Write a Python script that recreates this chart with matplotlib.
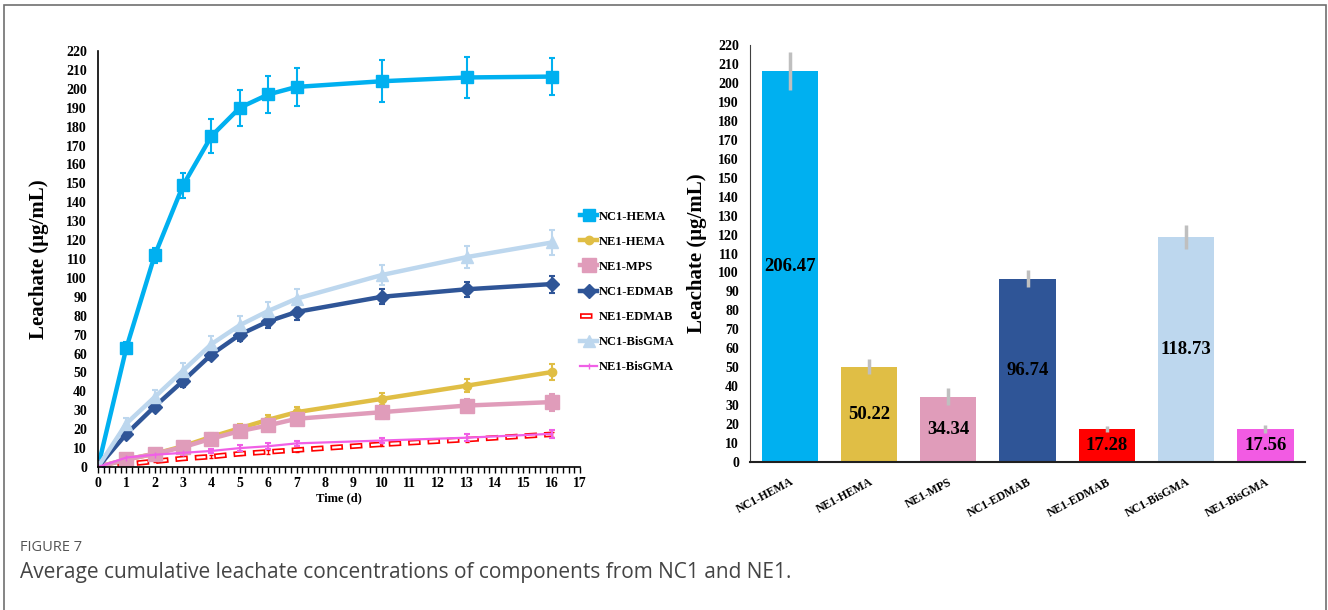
import numpy as np
import matplotlib.pyplot as plt
from matplotlib.ticker import MultipleLocator
from matplotlib.patches import Rectangle
from matplotlib.lines import Line2D

plt.rcParams['font.family'] = ['Liberation Serif', 'DejaVu Serif']
plt.rcParams['lines.scale_dashes'] = False

# sampling days
days = [0, 1, 2, 3, 4, 5, 6, 7, 10, 13, 16]

names = ['NC1-HEMA', 'NE1-HEMA', 'NE1-MPS', 'NC1-EDMAB', 'NE1-EDMAB', 'NC1-BisGMA', 'NE1-BisGMA']

nc1_hema = [0, 63, 112, 149, 175, 190, 197, 201, 204, 206, 206.47]
nc1_hema_err = [0, 3, 4, 6.5, 9, 9.5, 10, 10, 11, 11, 10]
ne1_hema = [0, 4, 7, 11, 16, 20.5, 25, 29, 36, 43, 50.22]
ne1_hema_err = [0, 1, 1.5, 2, 2, 2.5, 2.5, 3, 3, 3.5, 4]
ne1_mps = [0, 4, 7, 10.5, 15, 19, 22, 25.5, 29, 32.5, 34.34]
ne1_mps_err = [0, 1.5, 2, 2.5, 2.5, 3, 3, 3.5, 3.5, 3.5, 4.5]
nc1_edmab = [0, 17.5, 32, 45.5, 59.5, 70, 77, 82, 90, 94, 96.74]
nc1_edmab_err = [0, 2, 2.5, 3, 3, 3.5, 3.5, 4, 4, 4, 4.5]
ne1_edmab = [0, 1.5, 3, 4.5, 5.5, 7, 8, 9, 12, 14.5, 17.28]
ne1_edmab_err = [0, 0.5, 0.5, 0.5, 0.8, 0.8, 1, 1, 1, 1.2, 1.5]
nc1_bisgma = [0, 23, 37, 51, 65, 75, 82.5, 89, 101.5, 111, 118.73]
nc1_bisgma_err = [0, 3, 3.5, 4, 4.5, 5, 5, 5, 5.5, 6, 6.5]
ne1_bisgma = [0, 5, 6.5, 7.5, 8.5, 10, 11, 12.5, 14, 15.5, 17.56]
ne1_bisgma_err = [0, 1, 1, 1, 1, 1.5, 1.5, 1.5, 1.5, 1.8, 2]

# final cumulative values for the bar panel
final_vals = [206.47, 50.22, 34.34, 96.74, 17.28, 118.73, 17.56]
final_err = [10, 4, 4.5, 4.5, 1.5, 6.5, 2]

c_nc1_hema = '#00B0F0'
c_ne1_hema = '#E0BE45'
c_ne1_mps = '#E09CBA'
c_nc1_edmab = '#2F5597'
c_ne1_edmab = '#FF0000'
c_nc1_bisgma = '#BDD7EE'
c_ne1_bisgma = '#F060E6'
bar_colors = [c_nc1_hema, c_ne1_hema, c_ne1_mps, c_nc1_edmab, c_ne1_edmab, c_nc1_bisgma, '#F25BE3']

red_dash = (0, (9, 5))
white_dash = (-1.2, (6.6, 7.4))

fig = plt.figure(figsize=(13.28, 6.10), dpi=100)

# ---- left: cumulative leachate over time ----
ax = fig.add_axes([0.0738, 0.2344, 0.3630, 0.6820])
handles = []

def curve(y, err, color, marker, ms, lw=3.2):
    ax.errorbar(days, y, yerr=err, color=color, lw=lw, marker=marker, ms=ms,
                mec=color, mfc=color, elinewidth=1.5, capsize=2, capthick=1.5)
    handles.append(Line2D([], [], color=color, lw=lw, marker=marker, ms=ms,
                          mec=color, mfc=color))

curve(nc1_hema, nc1_hema_err, c_nc1_hema, 's', 9)
curve(ne1_hema, ne1_hema_err, c_ne1_hema, 'o', 6)
curve(ne1_mps, ne1_mps_err, c_ne1_mps, 's', 10)
curve(nc1_edmab, nc1_edmab_err, c_nc1_edmab, 'D', 7)

# NE1-EDMAB: red outlined dashes with a white core
ax.errorbar(days, ne1_edmab, yerr=ne1_edmab_err, fmt='none', ecolor=c_ne1_edmab,
            elinewidth=1, capsize=1.5)
ax.plot(days, ne1_edmab, color=c_ne1_edmab, lw=4, linestyle=red_dash)
ax.plot(days, ne1_edmab, color='white', lw=1.6, linestyle=white_dash)
handles.append((Line2D([], [], color=c_ne1_edmab, lw=4, linestyle=red_dash),
                Line2D([], [], color='white', lw=1.6, linestyle=white_dash)))

curve(nc1_bisgma, nc1_bisgma_err, c_nc1_bisgma, '^', 8)
curve(ne1_bisgma, ne1_bisgma_err, c_ne1_bisgma, '|', 5, lw=1.6)

ax.set_xlim(0, 17)
ax.set_ylim(0, 220)
ax.xaxis.set_major_locator(MultipleLocator(1))
ax.xaxis.set_minor_locator(MultipleLocator(0.2))
ax.yaxis.set_major_locator(MultipleLocator(10))
ax.tick_params(axis='x', which='both', direction='out', length=4, width=1, pad=3)
ax.tick_params(axis='y', length=0, pad=8)
for lab in ax.get_xticklabels() + ax.get_yticklabels():
    lab.set_fontweight('bold')
    lab.set_fontsize(10)
for s in ['top', 'right']:
    ax.spines[s].set_visible(False)
ax.spines['left'].set_linewidth(1.2)
ax.spines['bottom'].set_linewidth(1.2)
ax.set_xlabel('Time (d)', fontsize=9, fontweight='bold', labelpad=2)
ax.set_ylabel('Leachate (μg/mL)', fontsize=15, fontweight='bold', labelpad=12)

fig.legend(handles, names, loc='upper left', bbox_to_anchor=(0.432, 0.665),
           frameon=False, prop={'weight': 'bold', 'size': 9},
           handlelength=1.4, handletextpad=0.1, labelspacing=1.05, borderpad=0)

# ---- right: final cumulative concentration ----
bx = fig.add_axes([0.5648, 0.2426, 0.4179, 0.6836])
xpos = np.arange(len(names))
bars = bx.bar(xpos, final_vals, width=0.71, color=bar_colors)
bx.errorbar(xpos, final_vals, yerr=final_err, fmt='none', ecolor='#BFBFBF',
            elinewidth=2.5, capsize=0)
bx.bar_label(bars, labels=[f'{v:.2f}' for v in final_vals], label_type='center',
             fontsize=13.5, fontweight='bold')
bx.set_xlim(-0.5, 6.5)
bx.set_ylim(0, 220)
bx.yaxis.set_major_locator(MultipleLocator(10))
bx.set_xticks(xpos)
bx.set_xticklabels(names, rotation=28, ha='right', rotation_mode='anchor',
                   fontsize=8.5, fontweight='bold')
bx.tick_params(axis='x', length=0, pad=10)
bx.tick_params(axis='y', length=0, pad=8)
for lab in bx.get_yticklabels():
    lab.set_fontweight('bold')
    lab.set_fontsize(10)
for s in ['top', 'right']:
    bx.spines[s].set_visible(False)
bx.spines['left'].set_color('#404040')
bx.spines['bottom'].set_color('#202020')
bx.spines['bottom'].set_linewidth(1.5)
bx.set_ylabel('Leachate (μg/mL)', fontsize=15, fontweight='bold', labelpad=8)

# ---- caption and frame ----
fig.text(0.0151, 0.1025, 'FIGURE 7', fontsize=10.5, color='#555555', family='Open Sans',
         va='center')
fig.text(0.0151, 0.062, 'Average cumulative leachate concentrations of components from NC1 and NE1.',
         fontsize=15, color='#444444', family='Open Sans', va='center')
fig.patches.append(Rectangle((0.003, -0.1), 0.9955, 1.092, transform=fig.transFigure,
                             fill=False, edgecolor='#707070', lw=1.2))

fig.savefig('out.png', dpi=100)
